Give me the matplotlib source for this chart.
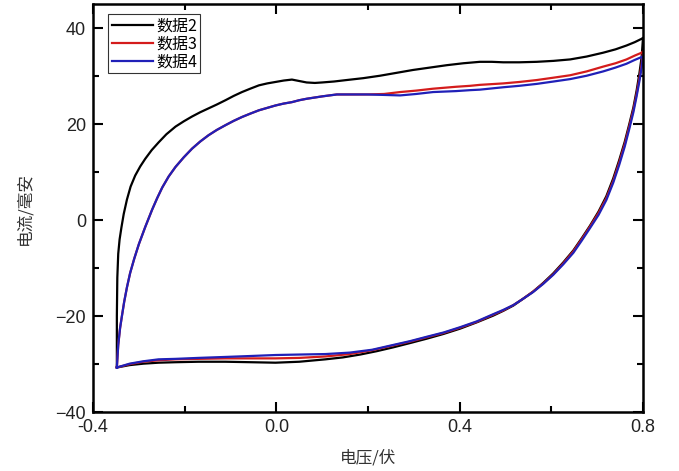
import matplotlib
matplotlib.use("Agg")
import matplotlib.pyplot as plt
from matplotlib.ticker import MultipleLocator

plt.rcParams['font.family'] = ['Noto Sans CJK SC', 'DejaVu Sans']

# 数据2 (black)
v2_up = [-0.348, -0.348, -0.347, -0.345, -0.342, -0.338, -0.333, -0.326, -0.318, -0.308,
         -0.297, -0.286, -0.272, -0.257, -0.240, -0.220, -0.202, -0.184, -0.166, -0.148,
         -0.130, -0.111, -0.093, -0.075, -0.057, -0.038, -0.020, -0.002, 0.016, 0.034,
         0.050, 0.066, 0.084, 0.100, 0.126, 0.153, 0.190, 0.226, 0.262, 0.298,
         0.335, 0.372, 0.408, 0.444, 0.470, 0.495, 0.530, 0.568, 0.605, 0.641,
         0.677, 0.713, 0.740, 0.764, 0.782, 0.797, 0.800]
i2_up = [-30.7, -20.0, -12.0, -7.0, -4.0, -1.5, 1.3, 4.3, 7.0, 9.3,
         11.2, 12.8, 14.6, 16.2, 17.9, 19.5, 20.6, 21.6, 22.5, 23.3,
         24.1, 25.0, 25.9, 26.7, 27.4, 28.1, 28.5, 28.8, 29.1, 29.3,
         29.0, 28.7, 28.6, 28.7, 28.9, 29.2, 29.6, 30.1, 30.7, 31.3,
         31.8, 32.3, 32.7, 33.0, 33.0, 32.9, 32.9, 33.0, 33.2, 33.5,
         34.1, 34.9, 35.6, 36.4, 37.1, 37.8, 38.0]
v2_down = [0.800, 0.797, 0.792, 0.786, 0.779, 0.770, 0.760, 0.748, 0.735, 0.720,
           0.703, 0.684, 0.666, 0.648, 0.626, 0.604, 0.582, 0.560, 0.538, 0.517,
           0.495, 0.473, 0.437, 0.401, 0.365, 0.328, 0.292, 0.255, 0.219, 0.183,
           0.145, 0.107, 0.050, -0.002, -0.055, -0.111, -0.170, -0.220, -0.257, -0.290,
           -0.320, -0.348]
i2_down = [38.0, 34.0, 30.5, 27.0, 23.5, 20.0, 16.3, 12.5, 8.7, 5.0,
           1.8, -1.2, -3.8, -6.3, -8.8, -11.1, -13.1, -14.9, -16.4, -17.8,
           -18.9, -19.9, -21.3, -22.6, -23.7, -24.7, -25.6, -26.5, -27.3, -28.0,
           -28.6, -29.0, -29.5, -29.7, -29.6, -29.5, -29.5, -29.6, -29.7, -29.9,
           -30.2, -30.7]

# 数据3 (red) and 数据4 (blue), anodic sweep
v34_up = [-0.348, -0.345, -0.341, -0.337, -0.332, -0.326, -0.319, -0.310, -0.300, -0.286,
          -0.271, -0.260, -0.249, -0.235, -0.220, -0.202, -0.184, -0.166, -0.148, -0.130,
          -0.111, -0.093, -0.075, -0.057, -0.038, -0.020, -0.002, 0.016, 0.034, 0.050,
          0.066, 0.100, 0.132, 0.165, 0.197, 0.235, 0.270, 0.305, 0.342, 0.392,
          0.423, 0.444, 0.495, 0.530, 0.568, 0.605, 0.641, 0.677, 0.713, 0.740,
          0.764, 0.782, 0.797, 0.800]
i3_up = [-30.7, -26.0, -22.5, -20.0, -17.0, -14.0, -11.0, -8.0, -5.0, -1.4,
         2.2, 4.6, 6.8, 9.1, 11.1, 13.1, 14.9, 16.4, 17.7, 18.8,
         19.8, 20.7, 21.5, 22.2, 22.9, 23.4, 23.9, 24.3, 24.6, 25.0,
         25.3, 25.8, 26.2, 26.2, 26.2, 26.3, 26.7, 27.0, 27.4, 27.8,
         28.0, 28.2, 28.5, 28.8, 29.2, 29.7, 30.2, 31.0, 32.0, 32.7,
         33.5, 34.3, 34.9, 35.2]
i4_up = [-30.7, -26.0, -22.5, -20.0, -17.0, -14.0, -11.0, -8.0, -5.0, -1.4,
         2.2, 4.6, 6.8, 9.1, 11.1, 13.1, 14.9, 16.4, 17.7, 18.8,
         19.8, 20.7, 21.5, 22.2, 22.9, 23.4, 23.9, 24.3, 24.6, 25.0,
         25.3, 25.8, 26.2, 26.2, 26.2, 26.1, 26.0, 26.3, 26.7, 26.9,
         27.1, 27.2, 27.7, 28.0, 28.4, 28.9, 29.4, 30.1, 31.0, 31.8,
         32.6, 33.4, 34.0, 34.2]

# cathodic sweep
v34_down = [0.800, 0.797, 0.792, 0.786, 0.779, 0.770, 0.760, 0.748, 0.735, 0.720,
            0.703, 0.684, 0.666, 0.648, 0.626, 0.604, 0.582, 0.560, 0.538, 0.517,
            0.495, 0.473, 0.437, 0.401, 0.365, 0.328, 0.292, 0.255, 0.209, 0.160,
            0.107, 0.050, -0.002, -0.055, -0.111, -0.170, -0.220, -0.257, -0.290, -0.320,
            -0.348]
i3_down = [35.2, 32.5, 29.5, 26.3, 23.0, 19.5, 15.8, 12.0, 8.2, 4.6,
           1.5, -1.4, -4.0, -6.5, -9.0, -11.3, -13.2, -14.9, -16.4, -17.7,
           -18.8, -19.7, -21.2, -22.4, -23.5, -24.4, -25.3, -26.1, -27.1, -27.9,
           -28.4, -28.7, -28.8, -28.8, -28.8, -28.9, -29.0, -29.2, -29.5, -30.0,
           -30.7]
i4_down = [34.2, 31.8, 28.9, 25.8, 22.5, 19.0, 15.3, 11.5, 7.8, 4.2,
           1.1, -1.7, -4.3, -6.8, -9.2, -11.4, -13.3, -15.0, -16.4, -17.7,
           -18.7, -19.6, -21.1, -22.3, -23.4, -24.3, -25.2, -26.0, -27.0, -27.6,
           -27.9, -28.0, -28.1, -28.3, -28.5, -28.7, -28.9, -29.0, -29.4, -29.9,
           -30.7]

fig = plt.figure(figsize=(6.79, 4.71), dpi=100)
ax = fig.add_axes([0.137, 0.125, 0.810, 0.866])

ax.plot(v2_up + v2_down, i2_up + i2_down, color='black', lw=1.6, label='数据2')
ax.plot(v34_up + v34_down, i3_up + i3_down, color='#d41c1c', lw=1.6, label='数据3')
ax.plot(v34_up + v34_down, i4_up + i4_down, color='#2020b8', lw=1.6, label='数据4')

ax.set_xlim(-0.4, 0.8)
ax.set_ylim(-40, 45)
ax.xaxis.set_major_locator(MultipleLocator(0.4))
ax.xaxis.set_minor_locator(MultipleLocator(0.2))
ax.yaxis.set_major_locator(MultipleLocator(20))
ax.yaxis.set_minor_locator(MultipleLocator(10))
ax.set_xticks([-0.4, 0.0, 0.4, 0.8])
ax.set_xticklabels(['-0.4', '0.0', '0.4', '0.8'])

for s in ax.spines.values():
    s.set_linewidth(1.8)
ax.tick_params(which='both', direction='in', top=True, right=True, width=1.5)
ax.tick_params(which='major', length=7, labelsize=13, pad=5)
ax.tick_params(which='minor', length=4)
for lab in ax.get_xticklabels() + ax.get_yticklabels():
    lab.set_family(['Liberation Sans Narrow', 'Liberation Sans', 'DejaVu Sans'])
    lab.set_color('#222222')

ax.set_xlabel('电压/伏', fontsize=12, color='#333333', labelpad=10)
ax.set_ylabel('电流/毫安', fontsize=12, color='#333333', labelpad=16)

leg = ax.legend(loc='upper left', bbox_to_anchor=(0.028, 0.975), fontsize=11.5,
                frameon=True, fancybox=False, handlelength=2.6, handletextpad=0.2,
                borderpad=0.2, labelspacing=0.05, borderaxespad=0)
leg.get_frame().set_edgecolor('black')
leg.get_frame().set_linewidth(0.8)

fig.savefig('out.png', dpi=100)
